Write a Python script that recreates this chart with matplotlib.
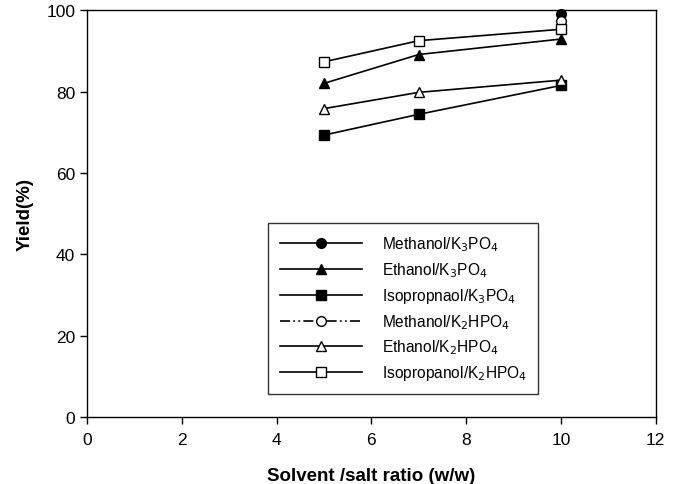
import matplotlib
matplotlib.use('Agg')
import matplotlib.pyplot as plt

plt.rcParams['font.family'] = ['Liberation Sans', 'DejaVu Sans']

# Data
ratio = [5, 7, 10]
meoh_k3po4 = [None, None, 99.1]
etoh_k3po4 = [82.0, 89.1, 92.9]
ipa_k3po4 = [69.3, 74.4, 81.5]
meoh_k2hpo4 = [None, None, 97.3]
etoh_k2hpo4 = [75.8, 79.8, 82.8]
ipa_k2hpo4 = [87.3, 92.5, 95.3]

labels = ['Methanol/K$_3$PO$_4$', 'Ethanol/K$_3$PO$_4$',
          'Isopropnaol/K$_3$PO$_4$', 'Methanol/K$_2$HPO$_4$',
          'Ethanol/K$_2$HPO$_4$', 'Isopropanol/K$_2$HPO$_4$']


def pts(ys):
    xs = [x for x, y in zip(ratio, ys) if y is not None]
    return xs, [y for y in ys if y is not None]


fig = plt.figure(figsize=(6.74, 4.85), dpi=100)
ax = fig.add_axes([0.129, 0.138, 0.844, 0.839])

series = [
    (meoh_k3po4, 'o', 'black', '-'),
    (etoh_k3po4, '^', 'black', '-'),
    (ipa_k3po4, 's', 'black', '-'),
    (meoh_k2hpo4, 'o', 'white', (0, (6, 2, 1, 2, 1, 2))),
    (etoh_k2hpo4, '^', 'white', '-'),
    (ipa_k2hpo4, 's', 'white', '-'),
]

for (ys, m, fc, ls), lab in zip(series, labels):
    xs, yv = pts(ys)
    ax.plot(xs, yv, color='black', linestyle=ls, linewidth=1.2,
            marker=m, markersize=7, markerfacecolor=fc,
            markeredgecolor='black', markeredgewidth=1.0,
            label=lab, clip_on=False, zorder=3)

ax.set_xlim(0, 12)
ax.set_ylim(0, 100)
ax.set_xticks(range(0, 13, 2))
ax.set_yticks(range(0, 101, 20))
ax.tick_params(direction='out', length=5, width=1, labelsize=12.5,
               top=False, right=False)
ax.tick_params(axis='x', pad=6)
for s in ax.spines.values():
    s.set_linewidth(1.0)

ax.set_xlabel('Solvent /salt ratio (w/w)', fontsize=13.5, fontweight='bold',
              labelpad=14)
ax.set_ylabel('Yield(%)', fontsize=13.5, fontweight='bold', labelpad=9)

leg = ax.legend(loc='upper left', bbox_to_anchor=(0.318, 0.477, 0.475, 0.0),
                mode='expand', fontsize=11.2, frameon=True, fancybox=False,
                edgecolor='black', handlelength=5.3, handletextpad=1.3,
                borderpad=0.75, labelspacing=0.45, borderaxespad=0)
leg.get_frame().set_linewidth(1.0)

fig.savefig('out.png', dpi=100)
